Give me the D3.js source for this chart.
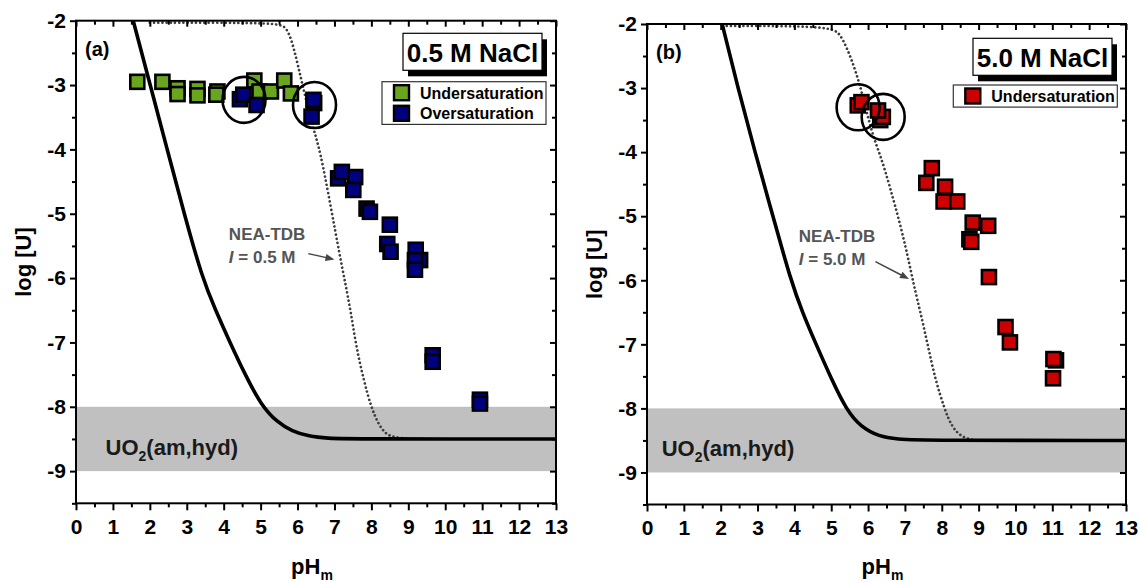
<!DOCTYPE html>
<html>
<head>
<meta charset="utf-8">
<script src="https://d3js.org/d3.v7.min.js"></script>
<style>
body { margin: 0; background: #fff; }
text { font-family: "Liberation Sans", Arial, sans-serif; font-weight: bold; }
</style>
</head>
<body>
<div id="chart"></div>
<script>
// ---- data (pH_m, log[U]) ----
var xMajor = [0,1,2,3,4,5,6,7,8,9,10,11,12,13];
var xMinor = [0.5,1.5,2.5,3.5,4.5,5.5,6.5,7.5,8.5,9.5,10.5,11.5,12.5];
var yMajor = [-2,-3,-4,-5,-6,-7,-8,-9];
var yMinor = [-2.5,-3.5,-4.5,-5.5,-6.5,-7.5,-8.5,-9.5];
var band = [-8, -9];

var underA = [[1.66,-2.95],[2.34,-2.95],[2.75,-3.05],[2.75,-3.14],[3.29,-3.06],[3.29,-3.16],
  [3.83,-3.10],[3.80,-3.15],[4.83,-2.93],[4.97,-3.10],[5.28,-3.10],[5.64,-2.93],[5.82,-3.13]];
var overA = [[4.44,-3.22],[4.53,-3.15],[4.89,-3.31],[6.45,-3.28],[6.43,-3.23],[6.38,-3.49],
  [7.10,-4.45],[7.20,-4.35],[7.56,-4.43],[7.51,-4.63],[7.87,-4.92],[7.96,-4.97],
  [8.50,-5.17],[8.43,-5.47],[8.52,-5.59],[9.20,-5.56],[9.32,-5.72],[9.18,-5.72],[9.18,-5.87],
  [9.66,-7.20],[9.66,-7.30],[10.94,-7.89],[10.94,-7.95]];
var underB = [[5.72,-3.27],[5.82,-3.22],[6.33,-3.50],[6.40,-3.45],[6.27,-3.35],
  [7.73,-4.25],[7.58,-4.48],[8.09,-4.54],[8.05,-4.77],[8.42,-4.77],[8.84,-5.10],[9.26,-5.15],
  [8.75,-5.36],[8.80,-5.40],[9.28,-5.95],[9.73,-6.73],[9.85,-6.97],[11.10,-7.25],[11.03,-7.23],[11.02,-7.53]];

var circlesA = [[4.55,-3.23],[6.46,-3.31]];
var circlesB = [[5.73,-3.30],[6.41,-3.45]];

var solidA = [[1.55,-2.0],[2.01,-3.0],[2.47,-4.0],[2.93,-5.0],[3.42,-6.0],[3.78,-6.5],[4.17,-7.0],
  [4.58,-7.5],[5.02,-7.98],[5.45,-8.24],[5.85,-8.38],[6.31,-8.46],[6.8,-8.49],[7.5,-8.5],[13,-8.5]];
var dottedA = [[2.0,-2.03],[5.43,-2.03],[5.72,-2.09],[5.92,-2.46],[6.12,-2.97],[6.41,-3.65],[6.61,-4.01],
  [6.90,-4.89],[7.15,-5.67],[7.30,-6.1],[7.45,-6.55],[7.59,-7.07],[7.79,-7.58],[7.99,-8.0],
  [8.18,-8.26],[8.38,-8.42],[8.58,-8.47],[9.0,-8.5]];
var solidB = [[2.04,-2.0],[2.47,-3.0],[2.93,-4.0],[3.42,-5.0],[3.90,-6.0],[4.23,-6.52],[4.62,-7.04],
  [5.02,-7.56],[5.41,-8.02],[5.80,-8.29],[6.30,-8.44],[6.79,-8.48],[7.5,-8.5],[13,-8.5]];
var dottedB = [[2.05,-2.03],[4.97,-2.03],[5.26,-2.15],[5.56,-2.56],[5.80,-2.98],[6.10,-3.71],[6.35,-4.07],
  [6.59,-4.54],[6.89,-5.16],[7.14,-5.79],[7.25,-6.1],[7.43,-6.52],[7.63,-7.04],[7.83,-7.56],
  [8.07,-8.0],[8.27,-8.29],[8.57,-8.47],[9.0,-8.5]];

var legendA = ["Undersaturation", "Oversaturation"];
var legendB = ["Undersaturation"];

var svg = d3.select("#chart").append("svg")
  .attr("width", 1139)
  .attr("height", 583);

function drawPanel(p) {
  var x = d3.scaleLinear().domain([0, 13]).range([p.left, p.right]);
  var y = d3.scaleLinear().domain([-2, -9.5]).range([p.top, p.bottom]);
  var g = svg.append("g");

  svg.append("clipPath").attr("id", "clip" + p.id)
    .append("rect")
    .attr("x", x(0)).attr("y", y(-2))
    .attr("width", x(13) - x(0)).attr("height", y(-9.5) - y(-2));

  // grey UO2(am,hyd) band
  g.append("rect")
    .attr("x", x(0)).attr("y", y(band[0]))
    .attr("width", x(13) - x(0)).attr("height", y(band[1]) - y(band[0]))
    .attr("fill", "#c0c0c0");

  var ut = g.append("text")
    .attr("x", x(p.uoText[0])).attr("y", y(p.uoText[1]))
    .attr("font-size", 22).attr("fill", "#1a1a1a");
  ut.append("tspan").text("UO");
  ut.append("tspan").attr("font-size", 14).attr("dy", 6).text("2");
  ut.append("tspan").attr("dy", -6).text("(am,hyd)");

  var line = d3.line()
    .x(function(d) { return x(d[0]); })
    .y(function(d) { return y(d[1]); })
    .curve(d3.curveBasis);

  var curves = g.append("g").attr("clip-path", "url(#clip" + p.id + ")");
  curves.append("path").datum(p.dotted)
    .attr("fill", "none").attr("stroke", "#3c3c3c")
    .attr("stroke-width", 2.7).attr("stroke-linecap", "round")
    .attr("stroke-dasharray", "0.01,4.2")
    .attr("d", line);
  curves.append("path").datum(p.solid)
    .attr("fill", "none").attr("stroke", "#000")
    .attr("stroke-width", 3.6)
    .attr("d", line);

  // NEA-TDB annotation
  g.append("text").attr("x", x(p.nea[0])).attr("y", y(p.nea[1]))
    .attr("font-size", 17).attr("fill", "#555").text("NEA-TDB");
  var it = g.append("text").attr("x", x(p.nea[0])).attr("y", y(p.nea[1] - 0.36))
    .attr("font-size", 17).attr("fill", "#555");
  it.append("tspan").attr("font-style", "italic").text("I");
  it.append("tspan").text(" = " + p.ionic);

  var a0 = [x(p.arrow[0][0]), y(p.arrow[0][1])], a1 = [x(p.arrow[1][0]), y(p.arrow[1][1])];
  var ang = Math.atan2(a1[1] - a0[1], a1[0] - a0[0]);
  g.append("line")
    .attr("x1", a0[0]).attr("y1", a0[1])
    .attr("x2", a1[0] - 6 * Math.cos(ang)).attr("y2", a1[1] - 6 * Math.sin(ang))
    .attr("stroke", "#444").attr("stroke-width", 1.5);
  g.append("path")
    .attr("d", "M0,0L-9,-3.5L-9,3.5Z")
    .attr("fill", "#444")
    .attr("transform", "translate(" + a1[0] + "," + a1[1] + ") rotate(" + (ang * 180 / Math.PI) + ")");

  // data squares
  p.series.forEach(function(s) {
    g.append("g").selectAll("rect")
      .data(s.data)
      .join("rect")
      .attr("x", function(d) { return x(d[0]) - 7; })
      .attr("y", function(d) { return y(d[1]) - 7; })
      .attr("width", 14).attr("height", 14)
      .attr("fill", s.color).attr("stroke", "#000").attr("stroke-width", 2.6);
  });

  g.append("g").selectAll("ellipse")
    .data(p.circles)
    .join("ellipse")
    .attr("cx", function(d) { return x(d[0]); })
    .attr("cy", function(d) { return y(d[1]); })
    .attr("rx", 21.5).attr("ry", 23)
    .attr("fill", "none").attr("stroke", "#000").attr("stroke-width", 2.6);

  // axes
  function style(sel) {
    sel.select(".domain").remove();
    sel.selectAll("line").attr("stroke", "#000").attr("stroke-width", 2);
    sel.selectAll("text").attr("font-size", 21).attr("fill", "#000")
      .style("font-family", "'Liberation Sans', Arial, sans-serif").style("font-weight", "bold");
  }
  var fmt = function(d) { return String(d); };
  g.append("g").attr("transform", "translate(0," + y(-9.5) + ")")
    .call(d3.axisBottom(x).tickValues(xMajor).tickSize(7).tickPadding(9).tickFormat(fmt)).call(style);
  g.append("g").attr("transform", "translate(0," + y(-9.5) + ")")
    .call(d3.axisBottom(x).tickValues(xMinor).tickSize(4).tickFormat("")).call(style);
  g.append("g").attr("transform", "translate(0," + y(-2) + ")")
    .call(d3.axisTop(x).tickValues(xMajor).tickSize(-6).tickFormat("")).call(style);
  g.append("g").attr("transform", "translate(0," + y(-2) + ")")
    .call(d3.axisTop(x).tickValues(xMinor).tickSize(-4).tickFormat("")).call(style);
  g.append("g").attr("transform", "translate(" + x(0) + ",0)")
    .call(d3.axisLeft(y).tickValues(yMajor).tickSize(6).tickPadding(4).tickFormat(fmt)).call(style);
  g.append("g").attr("transform", "translate(" + x(0) + ",0)")
    .call(d3.axisLeft(y).tickValues(yMinor).tickSize(4).tickFormat("")).call(style);
  g.append("g").attr("transform", "translate(" + x(13) + ",0)")
    .call(d3.axisRight(y).tickValues(yMajor).tickSize(-6).tickFormat("")).call(style);
  g.append("g").attr("transform", "translate(" + x(13) + ",0)")
    .call(d3.axisRight(y).tickValues(yMinor).tickSize(-4).tickFormat("")).call(style);

  g.append("rect")
    .attr("x", x(0)).attr("y", y(-2))
    .attr("width", x(13) - x(0)).attr("height", y(-9.5) - y(-2))
    .attr("fill", "none").attr("stroke", "#000").attr("stroke-width", 2);

  // axis titles
  g.append("text")
    .attr("transform", "translate(" + (p.left - 45) + "," + ((p.top + p.bottom) / 2) + ") rotate(-90)")
    .attr("text-anchor", "middle").attr("font-size", 22).text("log [U]");
  var xt = g.append("text")
    .attr("x", (p.left + p.right) / 2 - 4).attr("y", 574)
    .attr("text-anchor", "middle").attr("font-size", 22);
  xt.append("tspan").text("pH");
  xt.append("tspan").attr("font-size", 14).attr("dy", 6).text("m");

  // panel letter
  g.append("text").attr("x", p.left + 9).attr("y", p.top + 35)
    .attr("font-size", 20).text(p.letter);

  // salt box with shadow
  var bx = p.right - 14 - 139, by = p.top + p.boxDy;
  g.append("rect").attr("x", bx + 5).attr("y", by + 6).attr("width", 139).attr("height", 37).attr("fill", "#000");
  g.append("rect").attr("x", bx).attr("y", by).attr("width", 139).attr("height", 37)
    .attr("fill", "#fff").attr("stroke", "#000").attr("stroke-width", 1.2);
  g.append("text").attr("x", bx + 69.5).attr("y", by + 28.5)
    .attr("text-anchor", "middle").attr("font-size", 26).text(p.salt);

  // legend
  var lx = p.right - p.legDx - 164, ly = p.top + 61;
  var lh = p.legend.length * 20.6 + 1.5;
  g.append("rect").attr("x", lx).attr("y", ly).attr("width", 164).attr("height", lh)
    .attr("fill", "#fff").attr("stroke", "#333").attr("stroke-width", 1.2);
  p.legend.forEach(function(name, i) {
    var cy = ly + 11 + i * 20.6;
    g.append("rect").attr("x", lx + 12).attr("y", cy - 7.5).attr("width", 15).attr("height", 15)
      .attr("fill", p.series[i].color).attr("stroke", "#000").attr("stroke-width", 2.4);
    g.append("text").attr("x", lx + 38).attr("y", cy + 6)
      .attr("font-size", 16).text(name);
  });
}

drawPanel({
  id: "a", left: 76, right: 556, top: 20.7, bottom: 503.3,
  letter: "(a)", salt: "0.5 M NaCl", ionic: "0.5 M", boxDy: 12.6, legDx: 10,
  series: [{ data: underA, color: "#6aa51e" }, { data: overA, color: "#00007f" }],
  legend: legendA, circles: circlesA, solid: solidA, dotted: dottedA,
  uoText: [0.8, -8.75], nea: [4.14, -5.41], arrow: [[6.29, -5.62], [7.0, -5.71]]
});
drawPanel({
  id: "b", left: 647, right: 1126, top: 24, bottom: 504.5,
  letter: "(b)", salt: "5.0 M NaCl", ionic: "5.0 M", boxDy: 14.3, legDx: 8.7,
  series: [{ data: underB, color: "#cc0000" }],
  legend: legendB, circles: circlesB, solid: solidB, dotted: dottedB,
  uoText: [0.4, -8.74], nea: [4.12, -5.40], arrow: [[6.20, -5.71], [7.11, -5.98]]
});
</script>
</body>
</html>
